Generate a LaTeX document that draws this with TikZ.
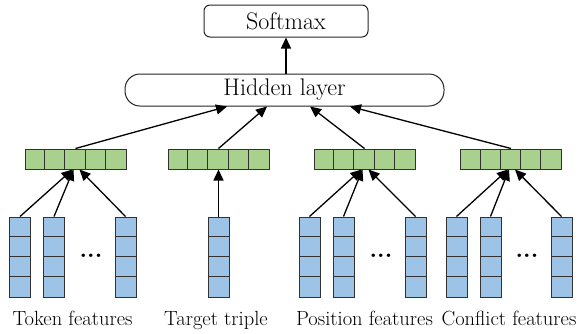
\documentclass[tikz,border=0pt]{standalone}
\usetikzlibrary{arrows.meta,calc}
\definecolor{gfill}{RGB}{169,209,142}
\definecolor{bfill}{RGB}{157,195,230}
\definecolor{edge}{RGB}{50,50,50}
\begin{document}
\begin{tikzpicture}[x=1pt,y=-1pt,
 arr/.style={-{Triangle[length=11pt,width=10pt]}, line width=1.3pt, black},
 gbar/.style={draw=edge, fill=gfill, line width=1pt, minimum width=101pt, minimum height=20pt, inner sep=0pt},
 bcol/.style={draw=edge, fill=bfill, line width=1pt, minimum width=21pt, minimum height=80pt, inner sep=0pt},
 lab/.style={font=\fontsize{20.5}{24}\selectfont, anchor=base, inner sep=0pt},
 topbox/.style={draw=black!85, line width=1pt, fill=white, font=\fontsize{24}{28}\selectfont, inner sep=0pt},
 dotsn/.style={font=\fontsize{24}{24}\selectfont\bfseries, inner sep=0pt},
 ]
\useasboundingbox (0,0) rectangle (579,333);

% top boxes
\node[topbox, rounded corners=6pt, minimum width=164pt, minimum height=32pt] (soft) at (286,21) {Softmax};
\node[topbox, rounded corners=15pt, minimum width=319pt, minimum height=32pt] (hid) at (284.5,90) {Hidden layer};
\draw[arr] (soft.south |- hid.north) -- (soft.south);

% green bars
\foreach \n/\x in {g1/75.5, g2/218.5, g3/364.5, g4/511}{
  \node[gbar] (\n) at (\x,159) {};
  \foreach \i in {1,...,4}{
    \draw[edge, line width=1pt] ($(\n.north west)+(\i*20.2,0)$) -- ++(0,20);
  }
}

% blue columns
\foreach \n/\x in {b1/20, b2/54, b3/125.5, t1/218.5, p1/309.5, p2/343.5, p3/415.5, c1/456.5, c2/490.5, c3/561.5}{
  \node[bcol] (\n) at (\x,257) {};
  \foreach \i in {1,...,3}{
    \draw[edge, line width=1pt] ($(\n.north west)+(0,\i*20)$) -- ++(21,0);
  }
}

% dots
\node[dotsn] (d1) at (91,256) {...};
\node[dotsn] (d3) at (381,256) {...};
\node[dotsn] (d4) at (527,256) {...};

% arrows columns -> bars
\draw[arr] (b1.north) -- ($(g1.south)+(-3,0)$);
\draw[arr] (b2.north) -- ($(g1.south)+(-2,0)$);
\draw[arr] (b3.north) -- ($(g1.south)+(4,0)$);
\draw[arr] (t1.north) -- (g2.south);
\draw[arr] (p1.north) -- ($(g3.south)+(-3,0)$);
\draw[arr] (p2.north) -- ($(g3.south)+(-2,0)$);
\draw[arr] (p3.north) -- ($(g3.south)+(4,0)$);
\draw[arr] (c1.north) -- ($(g4.south)+(-3,0)$);
\draw[arr] (c2.north) -- ($(g4.south)+(-2,0)$);
\draw[arr] (c3.north) -- ($(g4.south)+(4,0)$);

% arrows bars -> hidden
\draw[arr] (g1.north) -- ($(hid.south)+(-57.5,0)$);
\draw[arr] (g2.north) -- ($(hid.south)+(-17.5,0)$);
\draw[arr] (g3.north) -- ($(hid.south)+(25.5,0)$);
\draw[arr] (g4.north) -- ($(hid.south)+(65.5,0)$);

% labels
\node[lab] (l1) at (72.5,325) {Token features};
\node[lab] (l2) at (216,325) {Target triple};
\node[lab] (l3) at (364.5,325) {Position features};
\node[lab] (l4) at (509,325) {Conflict features};
\end{tikzpicture}
\end{document}
